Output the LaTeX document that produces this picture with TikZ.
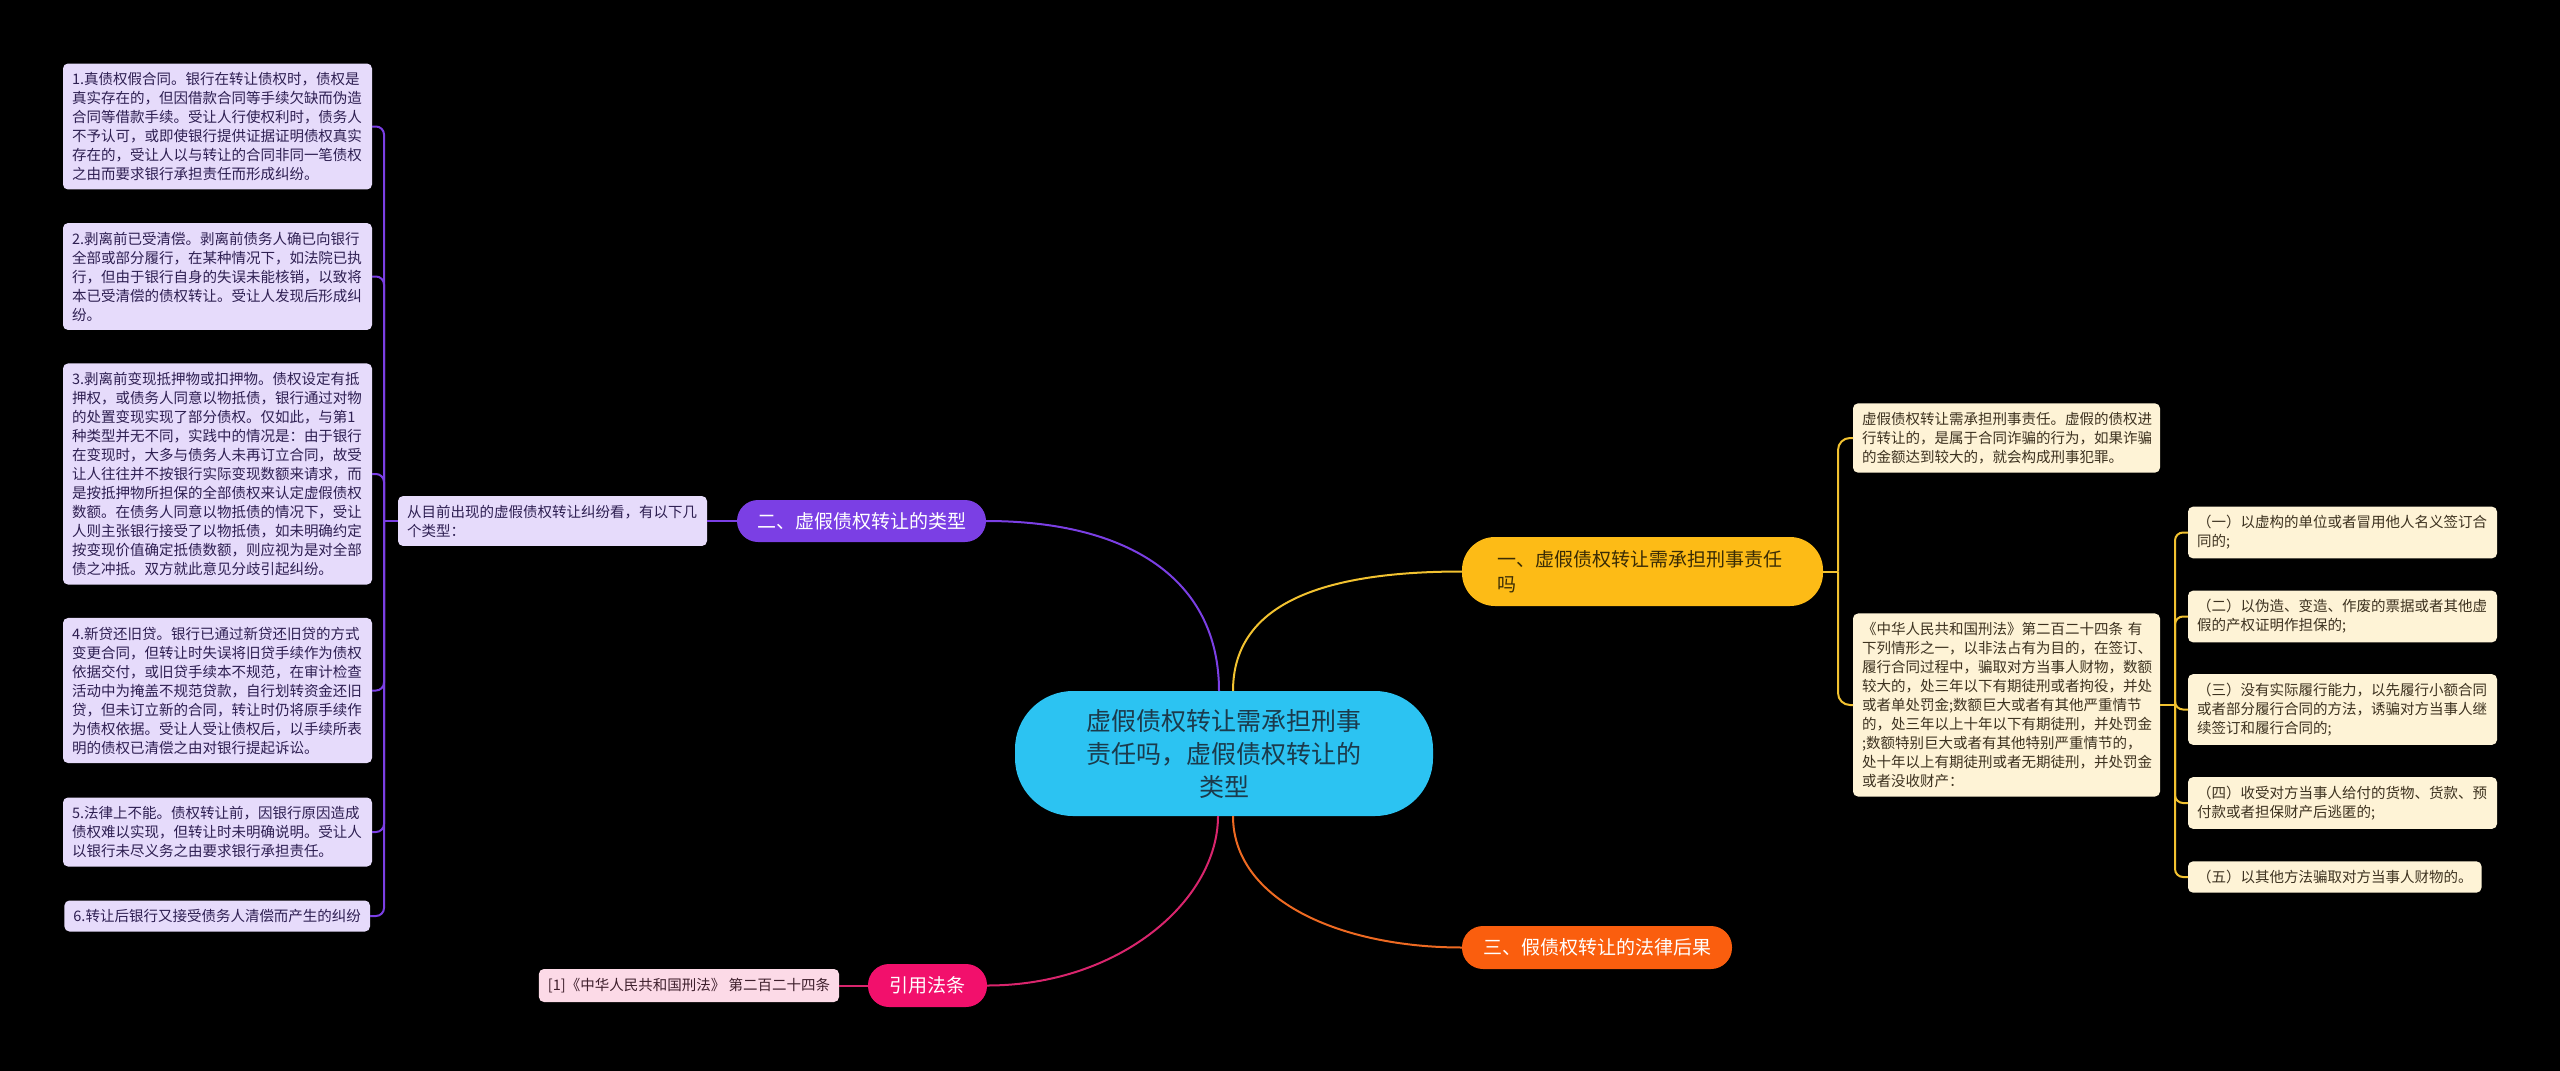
\documentclass[tikz,border=0pt]{standalone}
\usepackage{fontspec}
\setmainfont{Noto Sans CJK SC}
\definecolor{bgc}{HTML}{000000}
\definecolor{lav}{HTML}{E6DBFB}
\definecolor{lavtext}{HTML}{2E1F52}
\definecolor{purp}{HTML}{7B3FE4}
\definecolor{cream}{HTML}{FEF3D6}
\definecolor{creamtext}{HTML}{3D3220}
\definecolor{yel}{HTML}{FDBB16}
\definecolor{yelline}{HTML}{F2C230}
\definecolor{yeltext}{HTML}{3A2C05}
\definecolor{ora}{HTML}{FA5E0E}
\definecolor{oraline}{HTML}{EE6A22}
\definecolor{pnk}{HTML}{F2106C}
\definecolor{pnkline}{HTML}{D9256D}
\definecolor{pnklight}{HTML}{FCDAE7}
\definecolor{pnktext}{HTML}{3E1F2C}
\definecolor{cyanc}{HTML}{2CC3F2}
\definecolor{cyantext}{HTML}{1B3A4B}
\begin{document}
\begin{tikzpicture}[x=1pt,y=-1pt,
  every node/.style={inner sep=0pt,outer sep=0pt},
  lbox/.style={fill=lav,rounded corners=5pt,text=lavtext,font=\fontsize{14.5}{19}\selectfont,align=left,inner xsep=9pt,inner ysep=8.75pt},
  cbox/.style={fill=cream,rounded corners=5pt,text=creamtext,font=\fontsize{14.5}{19}\selectfont,align=left,inner xsep=9pt,inner ysep=8.75pt},
  mainnode/.style={rounded corners=21pt,font=\fontsize{19}{25}\selectfont,minimum height=43pt},
  purpline/.style={draw=purp,line width=2pt},
  yline/.style={draw=yelline,line width=2pt},
  oline/.style={draw=oraline,line width=2pt},
  pline/.style={draw=pnkline,line width=2pt}]
\fill[bgc] (0,0) rectangle (2560,1071);
\useasboundingbox (0,0) rectangle (2560,1071);

% central node
\node[fill=cyanc,rounded corners=58pt,minimum width=418pt,minimum height=125pt,text=cyantext,font=\fontsize{25}{33}\selectfont,align=center] (c) at (1224,753.5) {虚假债权转让需承担刑事\\责任吗，虚假债权转让的\\类型};

% main branches
\node[mainnode,fill=purp,text=white,minimum width=249pt,minimum height=42pt] (p) at (861.5,521) {二、虚假债权转让的类型};
\node[mainnode,fill=yel,text=yeltext,minimum width=361pt,minimum height=69pt,rounded corners=33pt,text width=290pt,align=left] (yn) at (1642.5,571.5) {一、虚假债权转让需承担刑事责任\\吗};
\node[mainnode,fill=ora,text=white,minimum width=270pt] (o) at (1597,947.5) {三、假债权转让的法律后果};
\node[mainnode,fill=pnk,text=white,minimum width=119pt] (pk) at (927.5,985.5) {引用法条};

% citation
\node[fill=pnklight,rounded corners=5pt,text=pnktext,font=\fontsize{14.5}{19}\selectfont,inner xsep=9pt,minimum height=33pt,anchor=east] (ref) at (839,985.5) {[1]《中华人民共和国刑法》 第二百二十四条};

% purple branch children
\node[lbox,anchor=east,text width=291pt] (mid) at (707,521) {从目前出现的虚假债权转让纠纷看，有以下几\\个类型：};
\node[lbox,anchor=east,text width=291pt] (l1) at (372,126.5) {1.真债权假合同。银行在转让债权时，债权是\\真实存在的，但因借款合同等手续欠缺而伪造\\合同等借款手续。受让人行使权利时，债务人\\不予认可，或即使银行提供证据证明债权真实\\存在的，受让人以与转让的合同非同一笔债权\\之由而要求银行承担责任而形成纠纷。};
\node[lbox,anchor=east,text width=291pt] (l2) at (372,276.5) {2.剥离前已受清偿。剥离前债务人确已向银行\\全部或部分履行，在某种情况下，如法院已执\\行，但由于银行自身的失误未能核销，以致将\\本已受清偿的债权转让。受让人发现后形成纠\\纷。};
\node[lbox,anchor=east,text width=291pt] (l3) at (372,474) {3.剥离前变现抵押物或扣押物。债权设定有抵\\押权，或债务人同意以物抵债，银行通过对物\\的处置变现实现了部分债权。仅如此，与第1\\种类型并无不同，实践中的情况是：由于银行\\在变现时，大多与债务人未再订立合同，故受\\让人往往并不按银行实际变现数额来请求，而\\是按抵押物所担保的全部债权来认定虚假债权\\数额。在债务人同意以物抵债的情况下，受让\\人则主张银行接受了以物抵债，如未明确约定\\按变现价值确定抵债数额，则应视为是对全部\\债之冲抵。双方就此意见分歧引起纠纷。};
\node[lbox,anchor=east,text width=291pt] (l4) at (372,690.5) {4.新贷还旧贷。银行已通过新贷还旧贷的方式\\变更合同，但转让时失误将旧贷手续作为债权\\依据交付，或旧贷手续本不规范，在审计检查\\活动中为掩盖不规范贷款，自行划转资金还旧\\贷，但未订立新的合同，转让时仍将原手续作\\为债权依据。受让人受让债权后，以手续所表\\明的债权已清偿之由对银行提起诉讼。};
\node[lbox,anchor=east,text width=291pt] (l5) at (372,832) {5.法律上不能。债权转让前，因银行原因造成\\债权难以实现，但转让时未明确说明。受让人\\以银行未尽义务之由要求银行承担责任。};
\node[lbox,anchor=east] (l6) at (370,916) {6.转让后银行又接受债务人清偿而产生的纠纷};

% yellow branch children
\node[cbox,anchor=west,text width=289pt] (ra) at (1853,438) {虚假债权转让需承担刑事责任。虚假的债权进\\行转让的，是属于合同诈骗的行为，如果诈骗\\的金额达到较大的，就会构成刑事犯罪。};
\node[cbox,anchor=west,text width=289pt] (rb) at (1853,705) {《中华人民共和国刑法》第二百二十四条 有\\下列情形之一，以非法占有为目的，在签订、\\履行合同过程中，骗取对方当事人财物，数额\\较大的，处三年以下有期徒刑或者拘役，并处\\或者单处罚金;数额巨大或者有其他严重情节\\的，处三年以上十年以下有期徒刑，并处罚金\\;数额特别巨大或者有其他特别严重情节的，\\处十年以上有期徒刑或者无期徒刑，并处罚金\\或者没收财产：};

\node[cbox,anchor=west,text width=291pt] (i1) at (2188,532.5) {（一）以虚构的单位或者冒用他人名义签订合\\同的;};
\node[cbox,anchor=west,text width=291pt] (i2) at (2188,616.5) {（二）以伪造、变造、作废的票据或者其他虚\\假的产权证明作担保的;};
\node[cbox,anchor=west,text width=291pt] (i3) at (2188,709.5) {（三）没有实际履行能力，以先履行小额合同\\或者部分履行合同的方法，诱骗对方当事人继\\续签订和履行合同的;};
\node[cbox,anchor=west,text width=291pt] (i4) at (2188,803) {（四）收受对方当事人给付的货物、货款、预\\付款或者担保财产后逃匿的;};
\node[cbox,anchor=west] (i5) at (2188,877) {（五）以其他方法骗取对方当事人财物的。};

% junction points
\coordinate (jl) at (384,521);
\coordinate (jr1) at (1838,571.5);
\coordinate (jr2) at (2175,705);

% connectors from centre
\draw[purpline] (p.east) .. controls (1130,521) and (1219,580) .. ([xshift=-5pt]c.north);
\draw[yline] ([xshift=9pt]c.north) .. controls (1233,600) and (1330,571.5) .. (yn.west);
\draw[pline] (pk.east) .. controls (1120,985.5) and (1218,900) .. ([xshift=-6pt]c.south);
\draw[oline] ([xshift=9pt]c.south) .. controls (1233,900) and (1340,947.5) .. (o.west);

% purple branch
\draw[purpline] (p.west) -- (mid.east);
\draw[purpline] (mid.west) -- (jl);
\foreach \n in {l1,l2,l3,l4,l5,l6}{
  \draw[purpline,rounded corners=8pt] (jl) |- (\n.east);
}

% yellow branch
\draw[yline] (yn.east) -- (jr1);
\draw[yline,rounded corners=12pt] (jr1) |- (ra.west);
\draw[yline,rounded corners=12pt] (jr1) |- (rb.west);
\draw[yline] (rb.east) -- (jr2);
\foreach \n in {i1,i2,i3,i4,i5}{
  \draw[yline,rounded corners=8pt] (jr2) |- (\n.west);
}

% citation
\draw[pline] (ref.east) -- (pk.west);
\end{tikzpicture}
\end{document}
